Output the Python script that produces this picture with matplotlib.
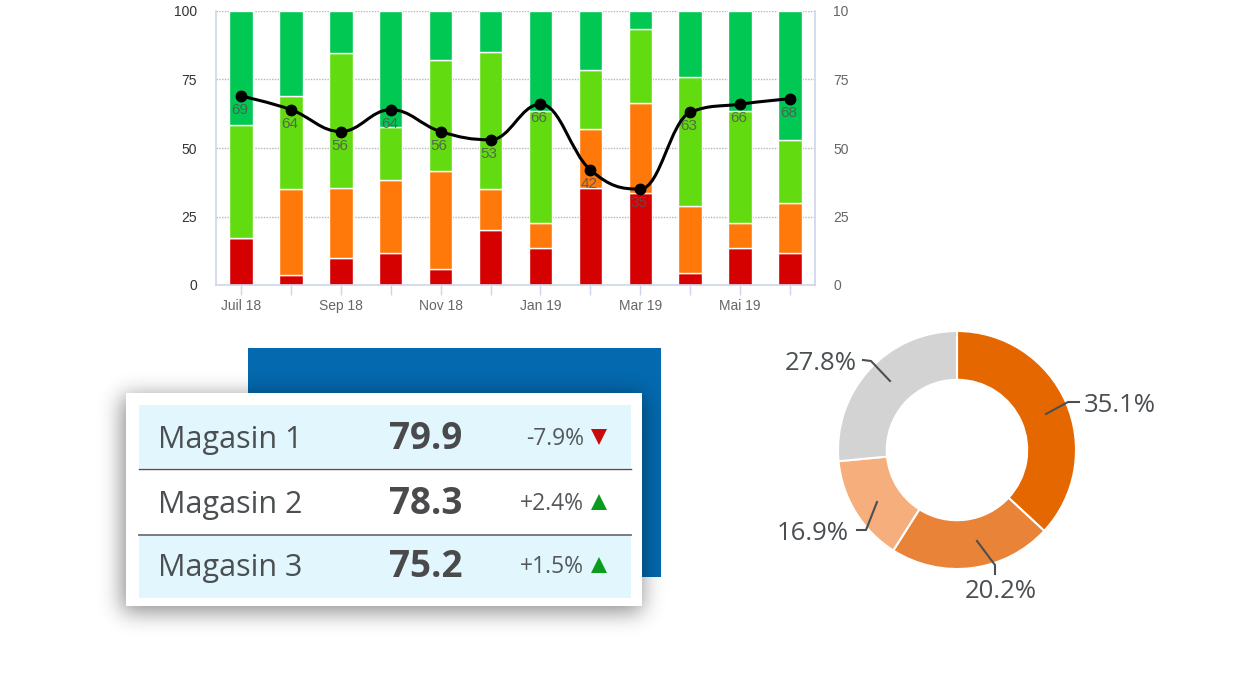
"""Dashboard mock: stacked bars with a score line, store table and donut."""

import matplotlib.pyplot as plt
from matplotlib.patches import PathPatch, Rectangle
from matplotlib.path import Path
import numpy as np

W, H = 1255, 674

months = ['Juil 18', 'Août 18', 'Sep 18', 'Oct 18', 'Nov 18', 'Déc 18',
          'Jan 19', 'Fév 19', 'Mar 19', 'Avr 19', 'Mai 19', 'Juin 19']
red = [17, 3.5, 10, 11.5, 6, 20, 13.5, 35.5, 33.5, 4.5, 13.5, 11.5]
orange = [0, 31.5, 25.5, 27, 35.5, 15, 9, 21.5, 33, 24.5, 9, 18.5]
light_green = [41.5, 34, 49, 19, 40.5, 50, 41, 21.5, 27, 47, 41, 23]
dark_green = [41.5, 31, 15.5, 42.5, 18, 15, 36.5, 21.5, 6.5, 24, 36.5, 47]
score = [69, 64, 56, 64, 56, 53, 66, 42, 35, 63, 66, 68]

left_ticks = [0, 25, 50, 75, 100]
right_labels = ['0', '25', '50', '75', '10']

stores = ['Magasin 1', 'Magasin 2', 'Magasin 3']
store_scores = ['79.9', '78.3', '75.2']
store_deltas = ['-7.9%', '+2.4%', '+1.5%']
store_up = [False, True, True]

# wedge sizes measured on the ring, they differ a bit from the printed labels
donut_sizes = [36.9, 22.1, 14.5, 26.5]
donut_labels = ['35.1%', '20.2%', '16.9%', '27.8%']
donut_colors = ['#e56700', '#e98337', '#f6ae7c', '#d3d3d3']


def px_axes(fig, left, top, right, bottom, **kw):
    """Axes placed by pixel edges of the figure."""
    return fig.add_axes([left / W, 1 - bottom / H, (right - left) / W, (bottom - top) / H], **kw)


def spline_path(xs, ys, smoothing=1.5):
    """Smooth bezier path through the points, clamped so it does not overshoot."""
    denom = smoothing + 1
    verts = [(xs[0], ys[0])]
    codes = [Path.MOVETO]
    prev_right = (xs[0], ys[0])
    for i in range(1, len(xs)):
        x, y = xs[i], ys[i]
        if i < len(xs) - 1:
            lx = (smoothing * x + xs[i - 1]) / denom
            ly = (smoothing * y + ys[i - 1]) / denom
            rx = (smoothing * x + xs[i + 1]) / denom
            ry = (smoothing * y + ys[i + 1]) / denom
            if rx != lx:
                corr = (ry - ly) * (rx - x) / (rx - lx) + y - ry
                ly += corr
                ry += corr
            if ly > max(ys[i - 1], y) or ly < min(ys[i - 1], y):
                ly = max(ys[i - 1], y) if ly > y else min(ys[i - 1], y)
                ry = 2 * y - ly
            if ry > max(ys[i + 1], y) or ry < min(ys[i + 1], y):
                ry = max(ys[i + 1], y) if ry > y else min(ys[i + 1], y)
                ly = 2 * y - ry
        else:
            lx, ly, rx, ry = x, y, x, y
        verts += [prev_right, (lx, ly), (x, y)]
        codes += [Path.CURVE4, Path.CURVE4, Path.CURVE4]
        prev_right = (rx, ry)
    return Path(verts, codes)


def blurred_box(lo, hi, start, stop, sigma):
    """Soft edged 1D profile of a box, for the card shadow."""
    grid = np.arange(lo, hi)
    box = ((grid >= start) & (grid < stop)).astype(float)
    kx = np.arange(-3 * int(sigma), 3 * int(sigma) + 1)
    kernel = np.exp(-kx**2 / (2 * sigma**2))
    kernel /= kernel.sum()
    return np.convolve(box, kernel, mode='same')


fig = plt.figure(figsize=(W / 100, H / 100), dpi=100, facecolor='white')

# Stacked bars
ax = px_axes(fig, 216, 11, 815, 285)
x = np.arange(len(months))
bottom = np.zeros(len(months))
for vals, col in zip([red, orange, light_green, dark_green], ['#d50000', '#ff780a', '#62dc10', '#00c853']):
    ax.bar(x, vals, 0.47, bottom=bottom, color=col, edgecolor='white', linewidth=1, zorder=2)
    bottom += np.array(vals)

ax.set_xlim(-0.5, 11.5)
ax.set_ylim(0, 100)
ax.set_yticks(left_ticks)
ax.set_xticks(x)
ax.set_xticklabels([m if i % 2 == 0 else '' for i, m in enumerate(months)],
                   family='Liberation Sans', fontsize=10, color='#666666')
ax.set_yticklabels([str(t) for t in left_ticks], family='Liberation Sans', fontsize=10, color='#333333')
ax.tick_params(axis='x', length=7.5, width=1, color='#ccd6eb', pad=2.5)
ax.tick_params(axis='y', length=0, pad=13.5)
ax.grid(axis='y', color='#b5b5b5', linestyle=(0, (1, 1)), linewidth=1, zorder=1)
ax.set_axisbelow(True)
ax.spines['top'].set_visible(False)
for side in ['left', 'bottom', 'right']:
    ax.spines[side].set_color('#ccd6eb')
    ax.spines[side].set_linewidth(1.2)

ax.add_patch(PathPatch(spline_path(x.astype(float), score), fill=False, edgecolor='black', linewidth=2.2, zorder=4))
ax.plot(x, score, 'o', color='black', markersize=7.5, zorder=5, clip_on=False)
for xi, s in zip(x, score):
    ax.annotate(str(s), (xi, s), xytext=(-1, -5), textcoords='offset points', ha='center', va='top',
                family='Liberation Sans', fontsize=11, color='#555555', alpha=0.85, zorder=6)

ax_right = ax.twinx()
ax_right.set_ylim(0, 100)
ax_right.set_yticks(left_ticks)
ax_right.set_yticklabels(right_labels, family='Liberation Sans', fontsize=10, color='#666666')
ax_right.tick_params(axis='y', length=0, pad=13)
ax_right.spines[:].set_visible(False)

# Everything below the bars is placed in pixels
overlay = fig.add_axes([0, 0, 1, 1], facecolor='none')
overlay.axis('off')

overlay.add_patch(Rectangle((248, 348), 413, 229, facecolor='#0469ae', edgecolor='none', zorder=1))

# card shadow
sx = blurred_box(70, 700, 122, 642, 11)
sy = blurred_box(350, 660, 396, 612, 11)
shadow = np.zeros((len(sy), len(sx), 4))
shadow[..., 3] = np.outer(sy, sx) * 0.45
overlay.imshow(shadow, extent=(70, 700, 660, 350), zorder=2, aspect='auto', interpolation='bilinear')
overlay.set_xlim(0, W)
overlay.set_ylim(H, 0)

overlay.add_patch(Rectangle((126, 393), 516, 213, facecolor='white', edgecolor='none', zorder=3))
overlay.add_patch(Rectangle((139, 405), 492, 63, facecolor='#e1f6fd', edgecolor='none', zorder=4))
overlay.add_patch(Rectangle((139, 536), 492, 62, facecolor='#e1f6fd', edgecolor='none', zorder=4))
overlay.plot([139, 631], [468.5, 468.5], color='#4a5258', linewidth=1, zorder=5)
overlay.plot([139, 631], [535, 535], color='#6d7276', linewidth=1.3, zorder=5)

row_y = [437, 502, 565]
for i, yy in enumerate(row_y):
    overlay.text(158, yy + 3, stores[i], family='Open Sans', fontsize=22, color='#4a4f52', va='center', ha='left', zorder=6)
    overlay.text(425.5, yy + 2, store_scores[i], family='Open Sans', fontweight='bold', fontsize=26.5, color='#4a4a4c',
                 va='center', ha='center', zorder=6)
    overlay.text(584, yy + 2, store_deltas[i], family='Open Sans', fontsize=16.5, color='#55585a', va='center', ha='right', zorder=6)
    overlay.plot(599, yy, '^' if store_up[i] else 'v', markersize=11,
                 color='#0a9c1c' if store_up[i] else '#c80a0a', markeredgewidth=0, zorder=6)

# Donut
ax_pie = px_axes(fig, 838, 331, 1076, 569)
ax_pie.pie(donut_sizes, colors=donut_colors, startangle=90, counterclock=False, radius=1,
           wedgeprops={'width': 0.41, 'edgecolor': 'white', 'linewidth': 1.5})
ax_pie.set_xlim(-1, 1)
ax_pie.set_ylim(-1, 1)

overlay_top = fig.add_axes([0, 0, 1, 1], facecolor='none')
overlay_top.set_xlim(0, W)
overlay_top.set_ylim(H, 0)
overlay_top.axis('off')

leader_xs = [[1046, 1068, 1079], [977, 995, 995], [877, 866, 857], [890, 871, 863]]
leader_ys = [[414, 402, 402], [541, 565, 574], [502, 530, 530], [381, 361, 360]]
label_pos = [(1084, 405, 'left'), (1001, 591, 'center'), (849, 533, 'right'), (857, 364, 'right')]
for lx, ly, lab, (tx, ty, ha) in zip(leader_xs, leader_ys, donut_labels, label_pos):
    overlay_top.plot(lx, ly, color='#4a4f52', linewidth=1.5)
    overlay_top.text(tx, ty, lab, family='Open Sans', fontsize=18.5, color='#4a4f52', va='center', ha=ha)

fig.savefig('out.png', dpi=100)
